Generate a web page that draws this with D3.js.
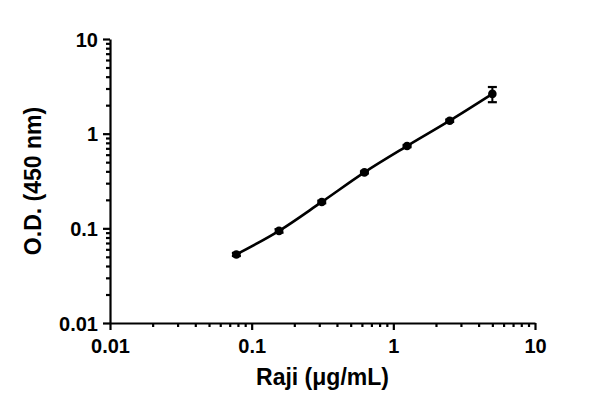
<!DOCTYPE html>
<html>
<head>
<meta charset="utf-8">
<script src="https://cdn.jsdelivr.net/npm/d3@7"></script>
<style>
  body { margin: 0; background: #fff; }
  .axis path, .axis line { stroke: #000; stroke-width: 2.2px; }
  .title { font-family: "Liberation Sans", Arial, sans-serif; font-weight: bold; font-size: 23px; fill: #000; }
</style>
</head>
<body>
<div class="g-chart"></div>
<script>
// concentrations (ug/mL), two-fold dilutions
var conc = [0.078, 0.156, 0.3125, 0.625, 1.25, 2.5, 5];
var od = [0.053, 0.094, 0.19, 0.39, 0.74, 1.37, 2.63];
var sd = [0.002, 0.004, 0.006, 0.01, 0.02, 0.04, 0.48];
var majorTicks = [0.01, 0.1, 1, 10];
var tickLabels = ["0.01", "0.1", "1", "10"];

var width = 600, height = 413;
var margin = {top: 39, right: 65, bottom: 90, left: 110};

var svg = d3.select(".g-chart").append("svg")
    .attr("width", width)
    .attr("height", height)
  .append("g")
    .attr("transform", "translate(" + margin.left + "," + margin.top + ")");

var w = width - margin.left - margin.right;
var h = height - margin.top - margin.bottom;

var x = d3.scaleLog().domain([0.01, 10]).range([0, w]);
var y = d3.scaleLog().domain([0.01, 10]).range([h, 0]);

// minor ticks 2..9 in each decade
var minor = [];
[0.01, 0.1, 1].forEach(function(d) {
  for (var k = 2; k <= 9; k++) minor.push(d * k);
});

function styleText(sel) {
  sel.attr("font-family", "'Liberation Sans', Arial, sans-serif")
     .attr("font-weight", "bold")
     .attr("font-size", 20)
     .attr("fill", "#000");
}

var xaxis = svg.append("g").attr("class", "x axis")
    .attr("transform", "translate(0," + h + ")");
xaxis.append("g")
    .call(d3.axisBottom(x).tickValues(minor).tickSize(4).tickFormat(""))
    .select(".domain").remove();
xaxis.append("g")
    .call(d3.axisBottom(x).tickValues(majorTicks).tickSize(7).tickSizeOuter(0)
      .tickFormat(function(d, i) { return tickLabels[i]; }))
    .selectAll("text").attr("y", 30).attr("dy", 0).call(styleText);

var yaxis = svg.append("g").attr("class", "y axis");
yaxis.append("g")
    .call(d3.axisLeft(y).tickValues(minor).tickSize(4).tickFormat(""))
    .select(".domain").remove();
yaxis.append("g")
    .call(d3.axisLeft(y).tickValues(majorTicks).tickSize(7).tickSizeOuter(0)
      .tickFormat(function(d, i) { return tickLabels[i]; }))
    .selectAll("text").attr("x", -12).attr("dy", "0.36em").call(styleText);

var pts = conc.map(function(c, i) { return {x: c, y: od[i], sd: sd[i]}; });

var line = d3.line()
    .curve(d3.curveMonotoneX)
    .x(function(d) { return x(d.x); })
    .y(function(d) { return y(d.y); });

svg.append("path")
    .datum(pts)
    .attr("fill", "none")
    .attr("stroke", "#000")
    .attr("stroke-width", 2.6)
    .attr("d", line);

// error bars
var eb = svg.append("g").selectAll("g").data(pts).join("g");
eb.append("line")
    .attr("x1", function(d) { return x(d.x); })
    .attr("x2", function(d) { return x(d.x); })
    .attr("y1", function(d) { return y(d.y + d.sd); })
    .attr("y2", function(d) { return y(d.y - d.sd); })
    .attr("stroke", "#000").attr("stroke-width", 2);
eb.selectAll(".cap").data(function(d) { return [d.y + d.sd, d.y - d.sd].map(function(v) { return {x: d.x, v: v}; }); })
  .join("line")
    .attr("class", "cap")
    .attr("x1", function(d) { return x(d.x) - 4.5; })
    .attr("x2", function(d) { return x(d.x) + 4.5; })
    .attr("y1", function(d) { return y(d.v); })
    .attr("y2", function(d) { return y(d.v); })
    .attr("stroke", "#000").attr("stroke-width", 2.2);

svg.append("g").selectAll("circle")
    .data(pts)
    .join("circle")
    .attr("cx", function(d) { return x(d.x); })
    .attr("cy", function(d) { return y(d.y); })
    .attr("r", 4.3)
    .attr("fill", "#000");

svg.append("text")
    .attr("class", "title")
    .attr("text-anchor", "middle")
    .attr("x", w / 2)
    .attr("y", h + 62)
    .text("Raji (\u03bcg/mL)");

svg.append("text")
    .attr("class", "title")
    .attr("text-anchor", "middle")
    .attr("dy", "0.35em")
    .attr("transform", "translate(-77," + (h / 2) + ") rotate(-90)")
    .text("O.D. (450 nm)");
</script>
</body>
</html>
